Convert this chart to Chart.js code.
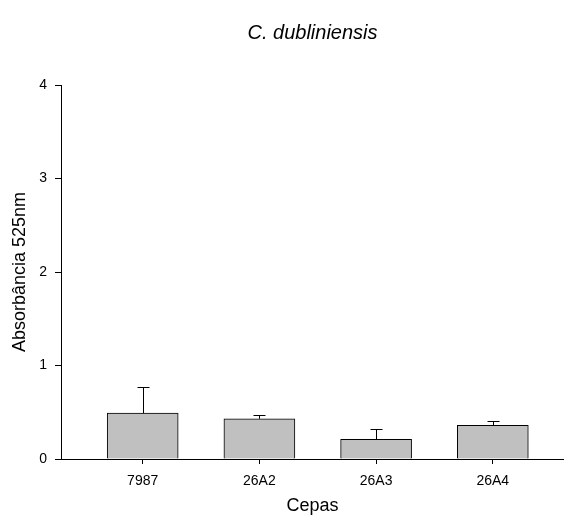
<!DOCTYPE html>
<html>
<head>
<meta charset="utf-8">
<script src="https://cdn.jsdelivr.net/npm/chart.js@4/dist/chart.umd.min.js"></script>
<style>
  html, body { margin: 0; padding: 0; background: #fff; }
  #wrap { width: 564px; height: 517px; }
</style>
</head>
<body>
<div id="wrap"><canvas id="chart" width="564" height="517"></canvas></div>
<script>
// C. dubliniensis absorbance per strain, bars with upper error bars only.
const cepas = ["7987", "26A2", "26A3", "26A4"];
const absorbancia = [0.49, 0.43, 0.21, 0.36];
const erro = [0.28, 0.04, 0.11, 0.05];
const yTicks = [0, 1, 2, 3, 4];

const FONT = "'Liberation Sans', Arial, sans-serif";

// draws the upward error bar above each bar, SigmaPlot style
const errorBars = {
  id: "errorBars",
  afterDatasetsDraw(c) {
    const ctx = c.ctx;
    const xs = c.scales.x, ys = c.scales.y;
    ctx.save();
    ctx.strokeStyle = "#000";
    ctx.lineWidth = 1;
    absorbancia.forEach((v, i) => {
      const x = Math.round(xs.getPixelForValue(i)) + 0.5;
      const y0 = ys.getPixelForValue(v);
      const y1 = Math.round(ys.getPixelForValue(v + erro[i])) + 0.5;
      ctx.beginPath();
      ctx.moveTo(x, y0);
      ctx.lineTo(x, y1);
      ctx.moveTo(x - 6, y1);
      ctx.lineTo(x + 6, y1);
      ctx.stroke();
    });
    ctx.restore();
  },
};

const chart = new Chart(document.getElementById("chart").getContext("2d"), {
  type: "bar",
  data: {
    datasets: [
      {
        data: absorbancia.map((v, i) => ({ x: i, y: v })),
        backgroundColor: "#c0c0c0",
        borderColor: "#000",
        borderWidth: 1,
        barThickness: 71,
      },
    ],
  },
  options: {
    responsive: false,
    animation: false,
    devicePixelRatio: 1,
    layout: { padding: 0 },
    plugins: {
      legend: { display: false },
      tooltip: { enabled: false },
      title: {
        display: true,
        fullSize: false,
        text: "C. dubliniensis",
        color: "#000",
        font: { family: FONT, size: 20, style: "italic", weight: "normal" },
        padding: { top: 21, bottom: 40 },
      },
    },
    scales: {
      x: {
        type: "linear",
        min: -0.7,
        max: 3.61,
        offset: false,
        afterBuildTicks(s) { s.ticks = cepas.map((_, i) => ({ value: i })); },
        afterFit(s) { s.height = 58; },
        ticks: {
          color: "#000",
          font: { family: FONT, size: 14 },
          padding: 9,
          maxRotation: 0,
          callback: (v) => cepas[v],
        },
        grid: {
          display: true,
          offset: false,
          drawOnChartArea: false,
          drawTicks: true,
          tickLength: 5,
          tickColor: "#000",
        },
        border: { color: "#000", width: 1 },
        title: {
          display: true,
          text: "Cepas",
          color: "#000",
          font: { family: FONT, size: 18 },
          padding: { top: 2, bottom: 0 },
        },
      },
      y: {
        min: 0,
        max: 4,
        afterBuildTicks(s) { s.ticks = yTicks.map((v) => ({ value: v })); },
        afterFit(s) { s.width = 61; },
        ticks: { color: "#000", font: { family: FONT, size: 14 }, padding: 8 },
        grid: { display: true, drawOnChartArea: false, drawTicks: true, tickLength: 6, tickColor: "#000" },
        border: { color: "#000", width: 1 },
        title: {
          display: true,
          text: "Absorbância 525nm",
          color: "#000",
          font: { family: FONT, size: 18 },
          padding: { top: 9, bottom: 4 },
        },
      },
    },
  },
  plugins: [errorBars],
});
</script>
</body>
</html>
